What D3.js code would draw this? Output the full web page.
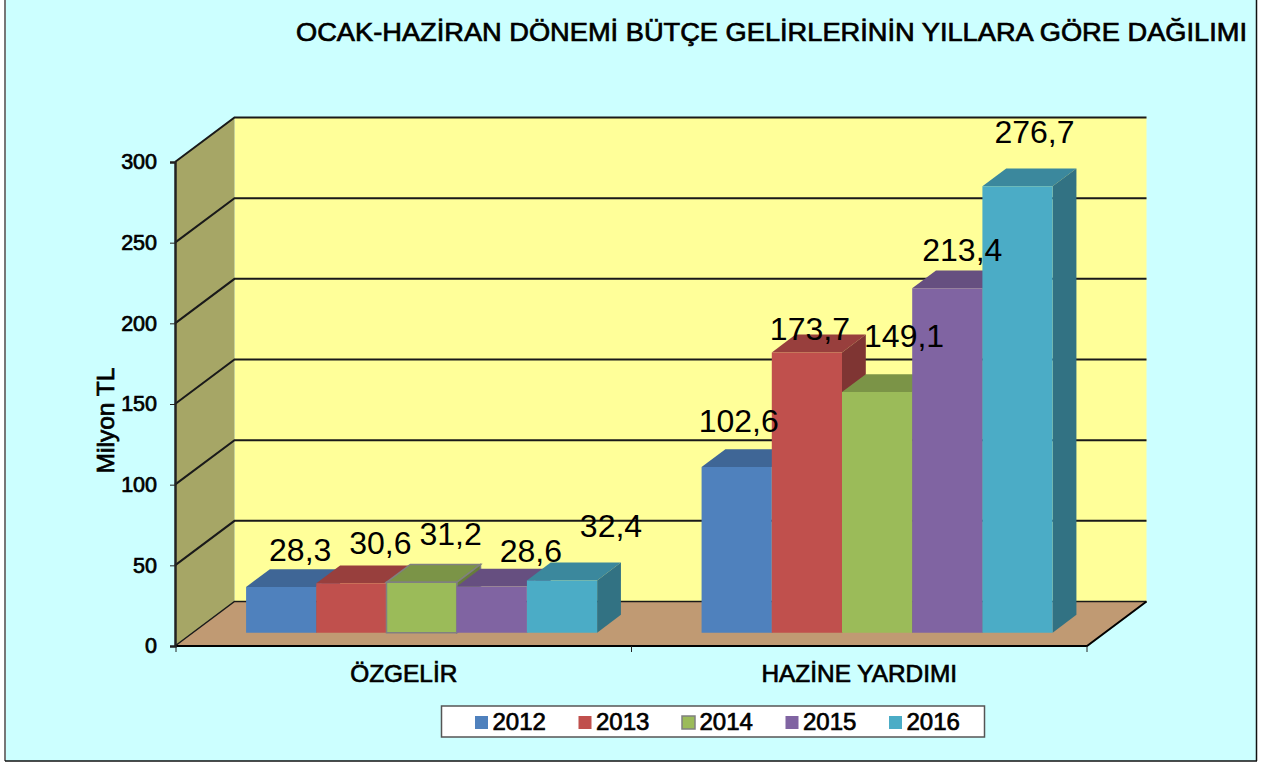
<!DOCTYPE html>
<html>
<head>
<meta charset="utf-8">
<script src="https://cdn.jsdelivr.net/npm/d3@7"></script>
<style>
  html, body { margin: 0; padding: 0; background: #fff; }
  svg { display: block; }
  text { font-family: "Liberation Sans", Arial, sans-serif; fill: #000; }
</style>
</head>
<body>
<div id="chart"></div>
<script>
const categories = ["ÖZGELİR", "HAZİNE YARDIMI"];
const years = ["2012", "2013", "2014", "2015", "2016"];
const ozgelir = [28.3, 30.6, 31.2, 28.6, 32.4];
const hazine = [102.6, 173.7, 149.1, 213.4, 276.7];
const seriesValues = [ozgelir, hazine];
const yTicks = [0, 50, 100, 150, 200, 250, 300];
const colours = ["#4F81BD", "#C0504D", "#9BBB59", "#8064A2", "#4BACC6"];

// the labels were dragged by hand in the original, so each has its own nudge from the bar top
const labelNudge = [
  [[19, -26], [29, -29], [29, -37], [39, -25], [49, -43]],
  [[2, -35], [3, -12], [27, -45], [15, -27], [17, -43]]
];

const width = 1266, height = 762;
const wallDx = 59.5, wallDy = 44.5;

const svg = d3.select("#chart").append("svg")
  .attr("width", width)
  .attr("height", height);

// regular weight with a thin stroke, that is how the original's heavy text looks
function heavy(sel, size) {
  sel.style("font-family", '"Liberation Sans", Arial, sans-serif')
    .style("font-size", size + "px")
    .style("font-weight", "normal")
    .style("stroke", "#000")
    .style("stroke-width", 0.7);
}

// chart area, no line along the top
svg.append("rect").attr("x", 5).attr("y", 0).attr("width", 1251.5).attr("height", 761).attr("fill", "#CCFFFF");
svg.append("line").attr("x1", 5).attr("x2", 5).attr("y1", 0).attr("y2", 761).attr("stroke", "#777").attr("stroke-width", 2);
svg.append("line").attr("x1", 1256.5).attr("x2", 1256.5).attr("y1", 0).attr("y2", 761).attr("stroke", "#111").attr("stroke-width", 1.5);
svg.append("line").attr("x1", 5).attr("x2", 1257).attr("y1", 761).attr("y2", 761).attr("stroke", "#111").attr("stroke-width", 1.5);

const x = d3.scaleBand().domain(categories).range([176, 1087]);
const xBar = d3.scaleBand().domain(d3.range(5)).range([0, x.bandwidth()]).paddingOuter(0.744);
const y = d3.scaleLinear().domain([0, 300]).range([646, 162]);

// d = depth into the chart, 0 at the front edge and 1 at the back wall
function project(px, py, d) {
  return [px + wallDx * d, py - wallDy * d];
}
const polygon = d3.line();
const left = x.range()[0] - 1, right = x.range()[1];

// walls and floor
svg.append("path")
  .attr("d", polygon([project(left, y(300), 1), project(right, y(300), 1), project(right, y(0), 1), project(left, y(0), 1)]) + "Z")
  .attr("fill", "#FFFF99");
svg.append("path")
  .attr("d", polygon([project(left, y(300), 0), project(left, y(300), 1), project(left, y(0), 1), project(left, y(0), 0)]) + "Z")
  .attr("fill", "#A6A666");
svg.append("path")
  .attr("d", polygon([project(left, y(0), 0), project(left, y(0), 1), project(right, y(0), 1), project(right, y(0), 0)]) + "Z")
  .attr("fill", "#C09A73");

// grid lines run along the side wall and then the back wall
svg.append("g").selectAll("path")
  .data(yTicks)
  .join("path")
  .attr("fill", "none")
  .attr("stroke", "#1a1a1a")
  .attr("stroke-width", d => d === 0 ? 1.5 : 2)
  .attr("d", d => polygon([project(left, y(d), 0), project(left, y(d), 1), project(right, y(d), 1)]));

svg.append("path")
  .attr("fill", "none")
  .attr("stroke", "#000")
  .attr("stroke-width", 2)
  .attr("d", polygon([project(left, y(0), 0), project(right, y(0), 0), project(right, y(0), 1)]));

// axes
const yAxis = svg.append("g")
  .attr("transform", "translate(" + left + ",0)")
  .call(d3.axisLeft(y).tickValues(yTicks).tickSize(5).tickPadding(13));
yAxis.select(".domain").attr("stroke", "#222").attr("stroke-width", 2.5);
yAxis.selectAll("line").attr("stroke", "#222");
yAxis.selectAll("text").call(heavy, 21.5);

const xAxis = svg.append("g")
  .attr("transform", "translate(0," + y(0) + ")")
  .call(d3.axisBottom(x).tickSize(0).tickPadding(19));
xAxis.select(".domain").remove();
xAxis.selectAll("text").call(heavy, 24.4);

// ticks sit between the categories, not under them
svg.append("g").selectAll("line")
  .data([left + 1, x(categories[1]), right])
  .join("line")
  .attr("x1", d => d).attr("x2", d => d)
  .attr("y1", y(0)).attr("y2", y(0) + 6)
  .attr("stroke", "#222");

// bars
const barDepthStart = 0.3, barDepthEnd = 0.7;

seriesValues.forEach(function(values, c) {
  const group = svg.append("g").attr("class", "bars");
  const bar = group.selectAll("g")
    .data(values)
    .join("g");

  function corners(v, i) {
    const x0 = x(categories[c]) + xBar(i);
    const x1 = x0 + xBar.bandwidth();
    return { x0: x0, x1: x1, top: y(v), base: y(0) };
  }

  // the 2014 bar of the first group is outlined in the original
  const outline = function(sel) {
    sel.attr("stroke", (d, i) => (c === 0 && i === 2) ? "#808080" : "none")
       .attr("stroke-width", 1.5);
  };

  bar.append("path") // top
    .attr("fill", (d, i) => d3.rgb(colours[i]).darker(0.65))
    .attr("d", function(d, i) {
      const b = corners(d, i);
      return polygon([project(b.x0, b.top, barDepthStart), project(b.x1, b.top, barDepthStart),
        project(b.x1, b.top, barDepthEnd), project(b.x0, b.top, barDepthEnd)]) + "Z";
    })
    .call(outline);

  bar.append("path") // right side
    .attr("fill", (d, i) => d3.rgb(colours[i]).darker(1.15))
    .attr("d", function(d, i) {
      const b = corners(d, i);
      return polygon([project(b.x1, b.top, barDepthStart), project(b.x1, b.top, barDepthEnd),
        project(b.x1, b.base, barDepthEnd), project(b.x1, b.base, barDepthStart)]) + "Z";
    })
    .call(outline);

  bar.append("path") // front
    .attr("fill", (d, i) => colours[i])
    .attr("d", function(d, i) {
      const b = corners(d, i);
      return polygon([project(b.x0, b.top, barDepthStart), project(b.x1, b.top, barDepthStart),
        project(b.x1, b.base, barDepthStart), project(b.x0, b.base, barDepthStart)]) + "Z";
    })
    .call(outline);
});

// value labels go over every bar
const fmt = v => v.toFixed(1).replace(".", ",");
seriesValues.forEach(function(values, c) {
  svg.append("g").selectAll("text")
    .data(values)
    .join("text")
    .attr("text-anchor", "middle")
    .style("font-size", "32px")
    .attr("x", (d, i) => project(x(categories[c]) + xBar(i) + xBar.bandwidth() / 2, y(d), barDepthStart)[0] + labelNudge[c][i][0])
    .attr("y", (d, i) => project(0, y(d), barDepthStart)[1] + labelNudge[c][i][1])
    .text(fmt);
});

// titles
svg.append("text")
  .attr("x", 296).attr("y", 41)
  .attr("textLength", 951)
  .attr("lengthAdjust", "spacingAndGlyphs")
  .call(heavy, 25.5)
  .text("OCAK-HAZİRAN DÖNEMİ BÜTÇE GELİRLERİNİN YILLARA GÖRE DAĞILIMI");

svg.append("text")
  .attr("transform", "translate(114,420.5) rotate(-90)")
  .attr("text-anchor", "middle")
  .call(heavy, 24.5)
  .text("Milyon TL");

// legend
const legend = svg.append("g");
legend.append("rect")
  .attr("x", 441.5).attr("y", 706)
  .attr("width", 543).attr("height", 31)
  .attr("fill", "#fff")
  .attr("stroke", "#555")
  .attr("stroke-width", 1.5);

const legendX = d3.scaleBand().domain(years).range([475, 992.5]);
const legendItem = legend.selectAll("g.item")
  .data(years)
  .join("g")
  .attr("class", "item")
  .attr("transform", d => "translate(" + legendX(d) + ",0)");
legendItem.append("rect")
  .attr("y", 716).attr("width", 13).attr("height", 13)
  .attr("fill", (d, i) => colours[i])
  .attr("stroke", (d, i) => i === 2 ? "#808080" : "none")
  .attr("stroke-width", 1.5);
legendItem.append("text")
  .attr("x", 17.5).attr("y", 730)
  .call(heavy, 24)
  .text(d => d);
</script>
</body>
</html>
